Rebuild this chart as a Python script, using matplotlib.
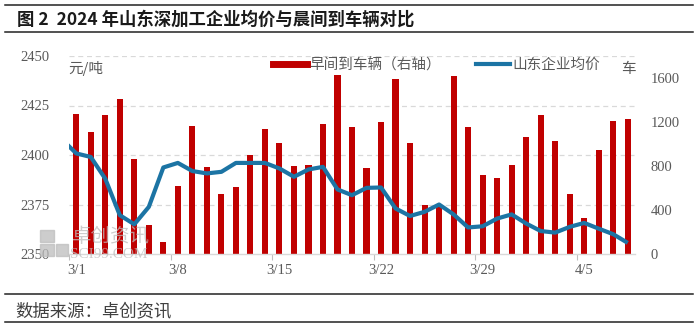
import numpy as np
import matplotlib
matplotlib.use("Agg")
import matplotlib.pyplot as plt
from matplotlib.lines import Line2D
from matplotlib.patches import Rectangle

CJK = ["Noto Sans CJK SC", "DejaVu Sans"]
NUM = ["Liberation Serif", "DejaVu Serif"]
plt.rcParams["font.family"] = CJK

# Daily dates, 3/1 .. 4/8 (index 0 = 3/1); the price series also has 2/29
bar_labels = ["3/1", "3/8", "3/15", "3/22", "3/29", "4/5"]
bar_label_days = [0, 7, 14, 21, 28, 35]

# Morning truck arrivals (right axis), 3/1 .. 4/8
arrivals = [1272, 1106, 1263, 1413, 865, 268, 108, 621, 1163, 795, 542, 609, 898,
            1136, 1012, 802, 811, 1181, 1627, 1151, 783, 1199, 1594, 1012, 449,
            443, 1618, 1157, 714, 690, 811, 1067, 1263, 1031, 549, 328, 946, 1208, 1226]

# Shandong average price (left axis), 2/29 .. 4/8
price = [2408, 2400.8, 2399, 2388, 2369.6, 2365, 2373.8, 2393.7, 2396, 2391.9, 2390.7,
         2391.5, 2396, 2396, 2396, 2393.2, 2389, 2392.7, 2394, 2382.6, 2379.7, 2383.4,
         2383.6, 2373, 2369.2, 2371.3, 2375, 2370, 2363.4, 2364, 2367.9, 2370, 2365.4,
         2361.6, 2360.8, 2363.7, 2365.7, 2362.8, 2360, 2355.6]

bar_x = np.arange(len(arrivals))
price_x = np.arange(len(price)) - 1

RED = "#C00000"
BLUE = "#1C74A4"
TICK = "#595959"
GRID = "#D9D9D9"

fig = plt.figure(figsize=(7, 3.29), dpi=100)
ax = fig.add_axes([69 / 700, 1 - 254 / 329, (635 - 69) / 700, (254 - 56) / 329])
ax2 = ax.twinx()
ax.set_zorder(2)
ax.patch.set_visible(False)
ax2.set_zorder(1)

# bars on the right axis
ax2.bar(bar_x, arrivals, width=0.42, color=RED, zorder=3)
ax2.set_ylim(0, 1800)
ax2.set_yticks([0, 400, 800, 1200, 1600])

# dashed grid on the left-axis levels, kept beneath the bars
for v in [2375, 2400, 2425, 2450]:
    ax2.add_line(Line2D([0, 1], [v, v], transform=ax.get_yaxis_transform(),
                        color=GRID, lw=0.9, ls=(0, (4, 3)), zorder=1))

# price line on the left axis
ax.plot(price_x, price, color=BLUE, lw=3.0, solid_joinstyle="round",
        solid_capstyle="butt", zorder=4)
ax.set_ylim(2350, 2450)
ax.set_yticks([2350, 2375, 2400, 2425, 2450])
ax.set_xlim(-0.5, len(arrivals) - 0.5)

for a in (ax, ax2):
    for s in ("top", "left", "right", "bottom"):
        a.spines[s].set_visible(False)
ax.spines["bottom"].set_visible(True)
ax.spines["bottom"].set_color(GRID)
ax.spines["bottom"].set_linewidth(1.0)

ax.set_xticks(bar_label_days)
ax.set_xticklabels(bar_labels)
ax.set_xticks([d - 0.5 for d in bar_label_days], minor=True)
ax.tick_params(axis="x", which="major", length=0, pad=7, labelsize=10.5, labelcolor=TICK)
ax.tick_params(axis="x", which="minor", length=4, color="#BFBFBF", width=0.8)
ax.tick_params(axis="y", length=0, pad=14, labelsize=10.5, labelcolor=TICK)
ax2.tick_params(axis="y", length=0, pad=11, labelsize=10.5, labelcolor=TICK)
for lab in ax.get_xticklabels() + ax.get_yticklabels() + ax2.get_yticklabels():
    lab.set_fontfamily(NUM)

# unit labels
fig.text(68 / 700, 1 - 68 / 329, "元/吨", fontsize=10.5, color=TICK, va="center", ha="left")
fig.text(628 / 700, 1 - 69 / 329, "车", fontsize=10.5, color=TICK, va="center", ha="center")

# legend
handles = [Line2D([], [], color=RED, lw=5), Line2D([], [], color=BLUE, lw=3)]
fig.legend(handles, ["早间到车辆（右轴）", "山东企业均价"], loc="center left",
           bbox_to_anchor=(273 / 700, 1 - 65 / 329), ncol=2, frameon=False,
           fontsize=10.5, labelcolor=TICK, handlelength=2.3, handletextpad=0.2,
           columnspacing=2.4, borderpad=0, borderaxespad=0)

# watermark
wm = "#BDBDBD"
for (x0, y0, w, h) in [(40, 256, 14, 12), (40, 242, 14, 12), (56, 256, 12, 12)]:
    fig.patches.append(Rectangle((x0 / 700, 1 - y0 / 329), w / 700, h / 329,
                                 transform=fig.transFigure, color=wm, alpha=0.75, zorder=5))
fig.text(72 / 700, 1 - 236 / 329, "卓创资讯", fontsize=14, color=wm, alpha=0.75,
         va="center", ha="left", zorder=5)
fig.text(70 / 700, 1 - 254 / 329, "SCI99.COM", fontsize=11, color=wm, alpha=0.75,
         va="center", ha="left", family=NUM, zorder=5)

# title with rules
fig.text(17 / 700, 1 - 20 / 329, "图 2  2024 年山东深加工企业均价与晨间到车辆对比",
         fontsize=12.5, weight="bold", color="#1A1A1A", va="center", ha="left")
for y in (5, 32, 294, 322):
    fig.add_artist(Line2D([5 / 700, 693 / 700], [1 - y / 329, 1 - y / 329],
                          color="#222222", lw=1.1, transform=fig.transFigure))

fig.text(15 / 700, 1 - 311 / 329, "数据来源：卓创资讯", fontsize=12.5, color="#404040",
         va="center", ha="left")

fig.savefig("out.png", dpi=100)
